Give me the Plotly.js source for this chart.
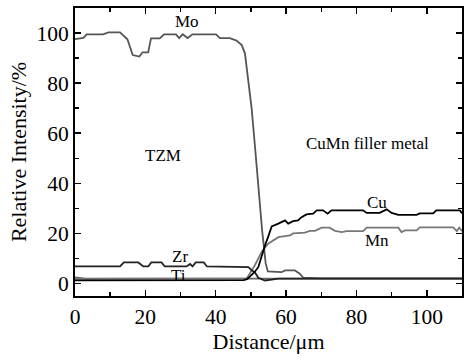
<!DOCTYPE html>
<html><head><meta charset="utf-8">
<script src="https://cdn.plot.ly/plotly-3.0.1.min.js"></script>
<style>body{margin:0}#c{width:465px;height:360px}</style>
</head><body><div id="c"></div>
<script>
const moX = [0,2.4,3.3,8.0,9.5,12.8,14.9,16.4,18.3,19.2,20.8,21.6,24.1,25.3,28.7,29.6,30.6,32.0,33.4,40.1,41.2,44.0,45.9,47.4,48.3,49.2,50.2,51.2,52.2,53.2,54.2,54.8,58.7,59.7,62.5,63.9,64.9,70,80,90,100,110];
const moY = [97.6,98.1,99.5,99.5,100.3,100.3,97.5,91.2,90.6,92.3,92.3,97.9,97.9,99.5,99.5,98,99.5,98,99.5,99.5,98,98,97,95.2,91.9,82.5,70,54,37,21,8,4.8,4.5,5.2,5.2,3.9,2.3,2.0,2.0,2.0,2.0,2.0];

const cuX = [0,20,40,48,49,50,51,52.1,53,54,55,55.9,57.8,59.7,60.6,62.0,63.4,64.4,65.8,67.7,68.7,70.5,71.8,72.9,75.3,81.9,82.9,86.6,88.6,90.0,91.9,97.1,98.0,101.8,102.7,109.4,110];
const cuY = [1.2,1.2,1.2,1.3,1.8,3,4.5,6.5,11,15.2,19,22.8,23.9,25.2,23.9,24.9,25.2,26.5,27.6,27.9,29.2,29.2,27.9,29.2,29.2,29.2,28.2,28.2,29.6,28.2,27.4,27.4,28.0,28.0,29.2,29.2,28.0];

const mnX = [0,20,40,48.8,51.1,53.0,54.9,57.8,61.1,62.0,65.3,66.8,68.2,70.1,72.4,73.9,75.8,77.2,81.9,82.9,91.9,92.8,93.8,97.1,98.0,107.5,108.5,109.2,110];
const mnY = [1.8,1.8,1.8,2.0,7.2,12.5,15.9,18.5,19.2,20.0,20.3,21.0,21.0,22.3,22.3,21.0,20.5,20.9,20.9,22.3,22.3,20.5,21.2,21.2,22.4,22.4,20.9,22.3,21.0];

const zrX = [0,12.8,13.9,18.0,19.4,20.8,21.7,24.6,25.5,31.7,32.7,33.4,34.3,36.6,37.5,47.9,49.3,50.2,51.1,52.1,54.0,55.9,57.8,70,80,90,100,110];
const zrY = [6.8,6.8,8.4,8.4,6.8,6.8,8.4,8.4,6.8,6.8,7.8,6.8,8.4,8.4,6.8,6.8,6.5,5.3,4.5,2.3,1.2,1.5,1.9,1.9,1.9,1.9,1.9,1.9];

const tiX = [0,3,10,20,22,28,30,40,46,50,55,60,70,80,90,100,110];
const tiY = [2.4,1.9,1.9,1.9,1.6,1.6,1.9,1.9,1.9,1.9,1.9,1.9,1.9,1.9,1.9,1.9,1.9];

const labels = [
  {t:'Mo', x:31.7, y:104.5},
  {t:'TZM', x:25, y:51},
  {t:'CuMn filler metal', x:83.2, y:56},
  {t:'Cu', x:85.8, y:32.5},
  {t:'Mn', x:85.8, y:17},
  {t:'Zr', x:29.8, y:10.8},
  {t:'Ti', x:29.5, y:3.0}
];

const traces = [
  {x:moX, y:moY, color:'#555555'},
  {x:tiX, y:tiY, color:'#666666'},
  {x:mnX, y:mnY, color:'#777777'},
  {x:zrX, y:zrY, color:'#222222'},
  {x:cuX, y:cuY, color:'#000000'}
].map(d => ({x:d.x, y:d.y, type:'scatter', mode:'lines', line:{color:d.color, width:1.8}, hoverinfo:'skip'}));

const font = {family:'Liberation Serif, Times New Roman, serif', color:'#000'};
const axisBase = {
  showline:true, linecolor:'#000', linewidth:2, mirror:'ticks',
  ticks:'inside', ticklen:6, tickwidth:1.5, tickcolor:'#000',
  showgrid:false, zeroline:false,
  tickfont:Object.assign({size:21.5}, font)
};

const layout = {
  width:465, height:360,
  margin:{l:75, r:3, t:8, b:64},
  paper_bgcolor:'#fff', plot_bgcolor:'#fff',
  showlegend:false,
  font:font,
  xaxis:Object.assign({}, axisBase, {
    range:[0,110], dtick:20, tick0:0,
    minor:{dtick:10, ticks:'inside', ticklen:4, tickwidth:1.5, tickcolor:'#000', showgrid:false},
    title:{text:'Distance/μm', font:Object.assign({size:22}, font), standoff:4}
  }),
  yaxis:Object.assign({}, axisBase, {
    range:[-5,110], dtick:20, tick0:0,
    minor:{dtick:10, ticks:'inside', ticklen:4, tickwidth:1.5, tickcolor:'#000', showgrid:false},
    title:{text:'Relative Intensity/%', font:Object.assign({size:22}, font), standoff:4}
  }),
  annotations: labels.map(l => ({x:l.x, y:l.y, xref:'x', yref:'y', text:l.t, showarrow:false, font:Object.assign({size:17}, font)}))
};

Plotly.newPlot('c', traces, layout, {staticPlot:true, displayModeBar:false});
</script></body></html>
